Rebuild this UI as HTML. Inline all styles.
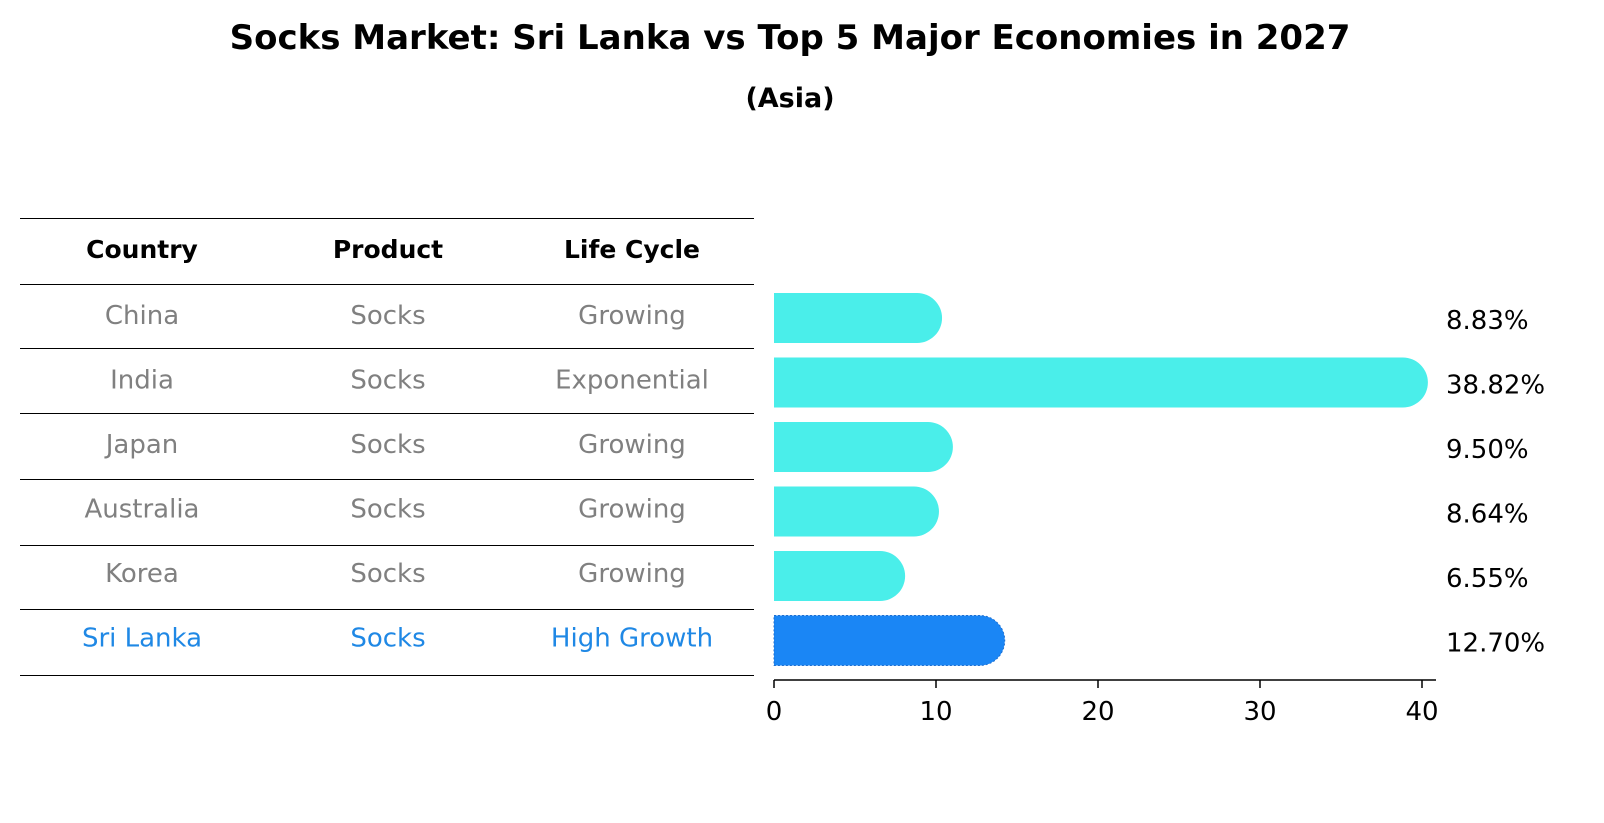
<!DOCTYPE html>
<html><head><meta charset="utf-8"><style>
body{margin:0;background:#fff;}
svg{display:block;font-family:"DejaVu Sans","Liberation Sans",sans-serif;}
</style></head><body>
<svg id="chart" width="1604" height="823" viewBox="0 0 1604 823">
<text x="790" y="49" text-anchor="middle" font-size="34" font-weight="bold">Socks Market: Sri Lanka vs Top 5 Major Economies in 2027</text>
<text x="790" y="107" text-anchor="middle" font-size="27" font-weight="bold">(Asia)</text>
<g id="table"></g>
<g id="bars"></g>
</svg>
<script>
const countries=["China","India","Japan","Australia","Korea","Sri Lanka"];
const products=["Socks","Socks","Socks","Socks","Socks","Socks"];
const lifeCycles=["Growing","Exponential","Growing","Growing","Growing","High Growth"];
const values=[8.83,38.82,9.50,8.64,6.55,12.70];
const ticks=[0,10,20,30,40];
const NS="http://www.w3.org/2000/svg";
function mk(tag,attrs,parent,text){const e=document.createElementNS(NS,tag);for(const k in attrs)e.setAttribute(k,attrs[k]);if(text!==undefined)e.textContent=text;parent.appendChild(e);return e;}
const xs=v=>774+v*16.2;
const rowY=i=>316+i*64.5;
const table=document.getElementById('table');
const lines=[218,284,348,413,479,545,609,675];
lines.forEach((y,i)=>{const l=mk('line',{x1:20,x2:754,y1:y+0.5,y2:y+0.5,stroke:'#000','stroke-width':1},table);

});
const cols=[142,388,632];
["Country","Product","Life Cycle"].forEach((h,j)=>{const t=mk('text',{x:cols[j],y:258,'text-anchor':'middle','font-size':25,'font-weight':'bold'},table,h);

});
countries.forEach((c,i)=>{const y=rowY(i)+8;const col=i===countries.length-1?'#1f88e5':'#808080';
[c,products[i],lifeCycles[i]].forEach((s,j)=>{const t=mk('text',{x:cols[j],y:y,'text-anchor':'middle','font-size':26,fill:col},table,s);

});});
const bars=document.getElementById('bars');
values.forEach((v,i)=>{const cy=rowY(i)+2;const hl=i===values.length-1;const col=hl?'#1a86f5':'#4aeeea';
const x1=xs(v);
const p=mk('path',{d:`M774 ${cy-25} H${x1} A25 25 0 0 1 ${x1} ${cy+25} H774 Z`,fill:col,stroke:hl?'#1f6fd0':'none','stroke-dasharray':hl?'2 2':'none'},bars);


const t=mk('text',{x:1446,y:cy+11,'font-size':26},bars,v.toFixed(2)+'%');

});
const ax=mk('line',{x1:774,x2:1436,y1:680,y2:680,stroke:'#000','stroke-width':1.5},bars);


ticks.forEach(t=>{const l=mk('line',{x1:xs(t),x2:xs(t),y1:680,y2:688,stroke:'#000','stroke-width':1.5},bars);


const tx=mk('text',{x:xs(t),y:720,'text-anchor':'middle','font-size':26},bars,String(t));

});
</script>
</body></html>
